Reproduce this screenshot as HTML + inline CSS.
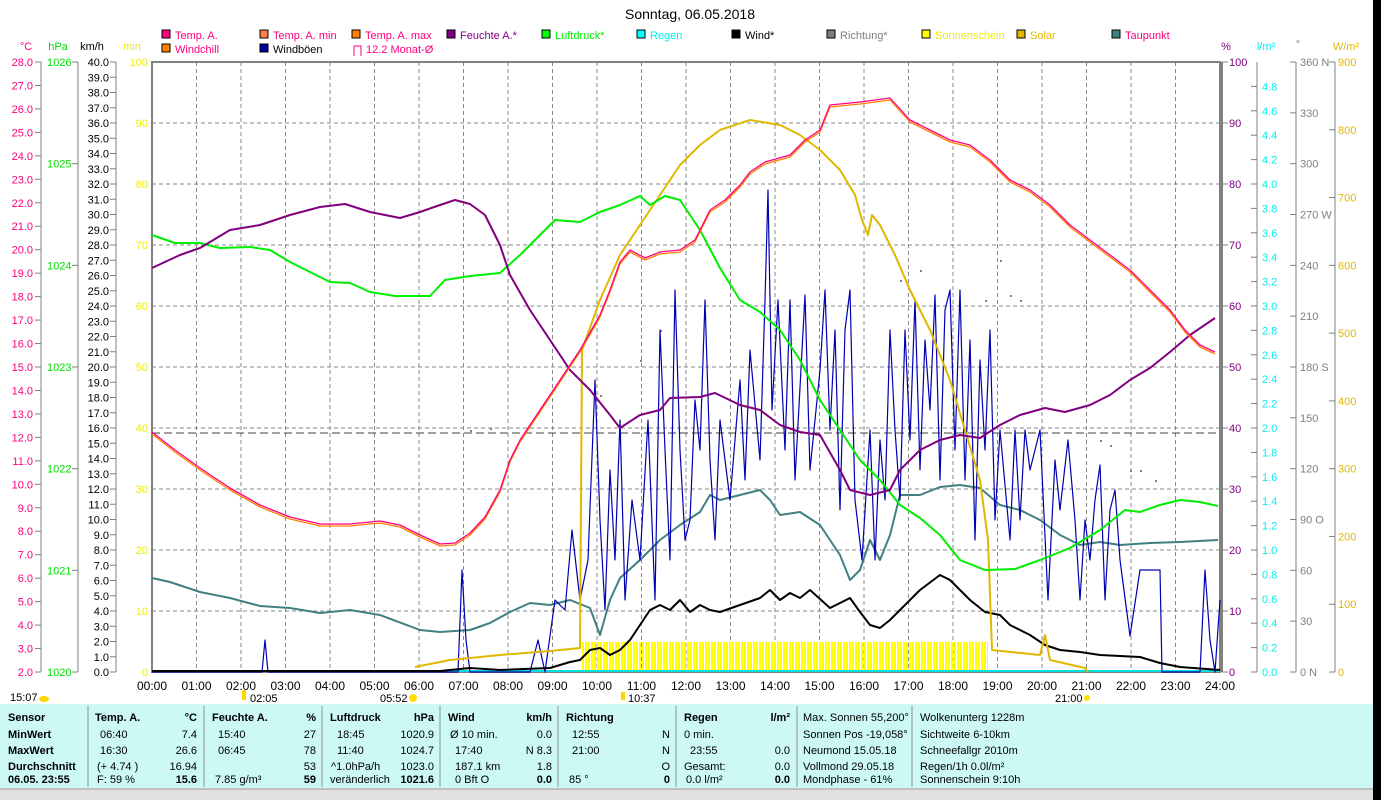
<!DOCTYPE html>
<html><head><meta charset="utf-8"><style>
body{margin:0;background:#fff;width:1381px;height:800px;overflow:hidden;font-family:"Liberation Sans",sans-serif}
svg{display:block}
text{font-family:"Liberation Sans",sans-serif;font-size:11px}
</style></head><body>
<svg id="s" width="1381" height="800" xmlns="http://www.w3.org/2000/svg">
<defs>
<pattern id="sun" width="3" height="30" patternUnits="userSpaceOnUse"><rect width="2" height="30" fill="#ffff00"/></pattern>
</defs>
<rect x="1373" y="0" width="8" height="800" fill="#000"/>
<text x="690" y="19" text-anchor="middle" style="font-size:14px">Sonntag, 06.05.2018</text>
<g id="g"></g>
<!-- bottom panel -->
<rect x="0" y="704" width="1373" height="84" fill="#ccf8f6"/>
<rect x="0" y="788" width="1373" height="12" fill="#e0e0e0"/>
<line x1="0" y1="789" x2="1373" y2="789" stroke="#a0a0a0"/>
<g id="t" style="font-size:11px"></g>
</svg>
<script>
const NS="http://www.w3.org/2000/svg",g=document.getElementById('g'),T=document.getElementById('t');
function el(p,n,a,txt){const e=document.createElementNS(NS,n);for(const k in a)e.setAttribute(k,a[k]);if(txt!==undefined)e.textContent=txt;p.appendChild(e);return e;}
function tx(p,x,y,s,c,anc,extra){const a={x:x,y:y,fill:c||'#000'};if(anc)a['text-anchor']=anc;if(extra)Object.assign(a,extra);return el(p,'text',a,s);}
const L=152,R=1220,TOP=62,B=672;
// grid
for(let h=1;h<24;h++){const x=L+h*(R-L)/24;el(g,'line',{x1:x,y1:TOP,x2:x,y2:B,stroke:'#888','stroke-dasharray':'4,3'});}
for(let i=1;i<10;i++){const y=B-i*61;el(g,'line',{x1:L,y1:y,x2:R,y2:y,stroke:'#888','stroke-dasharray':'4,3'});}
el(g,'rect',{x:L,y:TOP,width:R-L,height:B-TOP,fill:'none',stroke:'#808080','stroke-width':2});
el(g,'line',{x1:R+2,y1:TOP,x2:R+2,y2:B,stroke:'#808080','stroke-width':2});
// x labels
for(let h=0;h<=24;h++){const x=L+h*(R-L)/24;tx(g,x,690,(h<10?'0':'')+h+':00','#000','middle',{style:'font-size:12px'});}
tx(g,10,701,'15:07','#000');el(g,'ellipse',{cx:44,cy:699,rx:5,ry:3,fill:'#ffd800'});
tx(g,250,702,'02:05','#000');el(g,'rect',{x:242,y:690,width:4,height:10,fill:'#ffd800'});
tx(g,380,702,'05:52','#000');el(g,'circle',{cx:413,cy:698,r:4,fill:'#ffe000'});
tx(g,628,702,'10:37','#000');el(g,'rect',{x:621,y:692,width:4,height:8,fill:'#ffd800'});
tx(g,1055,702,'21:00','#000');el(g,'circle',{cx:1087,cy:698,r:3,fill:'#ffe000'});
// left axes
const axes=[41,78,116];axes.forEach(x=>el(g,'line',{x1:x,y1:TOP,x2:x,y2:B,stroke:'#808080'}));
tx(g,26,50,'°C','#ff0080','middle');tx(g,58,50,'hPa','#00dd00','middle');tx(g,92,50,'km/h','#000','middle');tx(g,132,50,'min','#eeee00','middle');
for(let v=2;v<=28;v++){const y=B-(v-2)*610/26;el(g,'line',{x1:35,y1:y,x2:41,y2:y,stroke:'#808080'});tx(g,33,y+4,v.toFixed(1),'#ff0080','end');}
for(let v=1020;v<=1026;v++){const y=B-(v-1020)*610/6;el(g,'line',{x1:72,y1:y,x2:78,y2:y,stroke:'#808080'});tx(g,47,y+4,v,'#00dd00');}
for(let v=0;v<=40;v++){const y=B-v*610/40;el(g,'line',{x1:110,y1:y,x2:116,y2:y,stroke:'#808080'});tx(g,109,y+4,v.toFixed(1),'#000','end');}
for(let v=0;v<=100;v+=10){const y=B-v*6.1;tx(g,148,y+4,v,'#eeee00','end');}
// right axes
[1257,1296,1335].forEach(x=>el(g,'line',{x1:x,y1:TOP,x2:x,y2:B,stroke:'#808080'}));
tx(g,1226,50,'%','#800080','middle');tx(g,1266,50,'l/m²','#00eeee','middle');tx(g,1298,48,'°','#808080','middle');tx(g,1346,50,'W/m²','#e0b800','middle');
for(let v=0;v<=100;v+=10){const y=B-v*6.1;el(g,'line',{x1:1222,y1:y,x2:1228,y2:y,stroke:'#808080'});tx(g,1229,y+4,v,'#800080');}
for(let i=0;i<=24;i++){const v=i*0.2,y=B-v*122;el(g,'line',{x1:1251,y1:y,x2:1257,y2:y,stroke:'#808080'});tx(g,1262,y+4,v.toFixed(1),'#00eeee');}
const dl={360:'360 N',270:'270 W',180:'180 S',90:'90 O',0:'0    N'};
for(let v=0;v<=360;v+=30){const y=B-v*610/360;el(g,'line',{x1:1290,y1:y,x2:1296,y2:y,stroke:'#808080'});tx(g,1300,y+4,dl[v]||v,'#808080');}
for(let v=0;v<=900;v+=100){const y=B-v*610/900;el(g,'line',{x1:1329,y1:y,x2:1335,y2:y,stroke:'#808080'});tx(g,1338,y+4,v,'#e0b800');}
// legend
const leg=[[162,38,'#ff0080','Temp. A.','#ff0080'],[260,38,'#ff8040','Temp. A. min','#ff0080'],[352,38,'#ff8000','Temp. A. max','#ff0080'],[447,38,'#800080','Feuchte A.*','#800080'],[542,38,'#00ff00','Luftdruck*','#00ee00'],[637,38,'#00ffff','Regen','#00eeee'],[732,38,'#000','Wind*','#000'],[827,38,'#808080','Richtung*','#808080'],[922,38,'#ffff00','Sonnenschein','#eeee00'],[1017,38,'#e0b800','Solar','#e0b800'],[1112,38,'#408080','Taupunkt','#ff0080'],[162,52,'#ff8000','Windchill','#ff0080'],[260,52,'#0000a0','Windböen','#000']];
leg.forEach(l=>{el(g,'rect',{x:l[0],y:l[1]-8,width:8,height:8,fill:l[2],stroke:'#000'});tx(g,l[0]+13,l[1]+1,l[3],l[4]);});
el(g,'path',{d:'M354,56 V46 H361 V56',fill:'none',stroke:'#ff0080'});tx(g,366,53,'12.2 Monat-Ø','#ff0080');
// monthly dashed
el(g,'line',{x1:L,y1:433,x2:R,y2:433,stroke:'#404040','stroke-dasharray':'8,4'});
// sunshine
el(g,'rect',{x:581,y:642,width:407,height:29,fill:'url(#sun)'});
el(g,'line',{x1:L,y1:671,x2:R,y2:671,stroke:'#00e0e0','stroke-width':2});
function pl(pts,c,w){el(g,'polyline',{points:pts.map(p=>p.join(',')).join(' '),fill:'none',stroke:c,'stroke-width':w||2,'stroke-linejoin':'round'});}
// direction dots
[[470,430],[490,428],[600,395],[640,360],[660,330],[900,280],[920,270],[1010,295],[1020,300],[1100,440],[1110,445],[1130,470],[1140,470],[1155,480],[1000,260],[985,300]].forEach(p=>el(g,'rect',{x:p[0],y:p[1],width:2,height:2,fill:'#808080'}));
const taup=[[152,578],[170,582],[200,592],[230,598],[260,606],[290,608],[320,613],[350,610],[380,615],[420,630],[440,632],[470,630],[490,623],[510,612],[530,603],[550,605],[570,600],[590,608],[600,635],[610,600],[620,578],[640,560],[660,540],[680,525],[700,512],[710,495],[720,500],[740,495],[760,490],[770,500],[780,515],[800,512],[820,525],[840,555],[850,580],[860,570],[870,540],[880,560],[890,535],[900,495],[920,495],[940,487],[960,485],[980,488],[1000,505],[1020,510],[1040,520],[1060,535],[1080,545],[1100,542],[1120,545],[1150,543],[1180,542],[1218,540]];
pl(taup,'#408080');
const boen=[[152,672],[262,672],[265,640],[268,672],[458,672],[462,570],[466,640],[470,672],[530,672],[538,640],[545,672],[555,600],[565,610],[572,530],[580,600],[588,560],[595,380],[600,520],[605,610],[610,470],[615,560],[620,420],[625,600],[632,500],[640,560],[648,420],[655,600],[660,330],[665,450],[670,560],[675,290],[680,450],[685,540],[690,520],[695,400],[700,450],[705,300],[710,460],[715,540],[720,420],[730,500],[740,380],[745,480],[750,350],[760,460],[765,300],[768,190],[772,410],[778,300],[785,450],[790,300],[795,480],[805,295],[810,470],[820,370],[825,290],[830,430],[835,330],[840,510],[845,330],[850,290],[855,500],[862,560],[870,430],[875,560],[880,440],[885,500],[890,330],[895,430],[900,500],[905,330],[910,440],[915,300],[920,470],[925,340],[930,410],[935,295],[940,480],[945,310],[950,290],[955,450],[960,290],[965,480],[970,340],[975,540],[980,360],[985,450],[990,330],[995,520],[1000,430],[1010,540],[1015,430],[1020,520],[1025,430],[1030,470],[1040,430],[1048,600],[1055,460],[1060,510],[1068,440],[1075,520],[1080,600],[1085,520],[1090,560],[1095,500],[1100,465],[1105,600],[1110,510],[1115,490],[1120,560],[1130,636],[1140,570],[1160,570],[1162,672],[1200,672],[1205,570],[1210,640],[1215,672],[1220,600]];
pl(boen,'#0000b0',1.2);
const wind=[[152,671],[440,671],[470,668],[500,670],[550,668],[570,662],[580,660],[590,650],[600,648],[610,655],[620,650],[630,640],[640,625],[650,610],[660,605],[670,610],[680,600],[690,612],[700,605],[710,610],[720,612],[740,605],[760,598],[770,590],[780,600],[790,593],[800,598],[810,590],[830,608],[850,598],[860,612],[870,625],[880,628],[890,620],[900,610],[920,590],[940,575],[950,580],[960,590],[970,600],[985,612],[1000,615],[1010,625],[1030,635],[1045,645],[1060,650],[1080,652],[1100,655],[1140,657],[1160,663],[1180,667],[1220,670]];
pl(wind,'#000');
const solar=[[415,667],[450,660],[500,655],[550,651],[580,648],[582,350],[600,300],[620,255],[640,225],[660,195],[680,165],[700,145],[720,130],[750,120],[780,125],[800,135],[820,150],[840,170],[855,195],[862,220],[868,235],[872,215],[880,225],[895,255],[910,290],[930,330],[950,380],[965,430],[980,480],[988,540],[992,650],[1040,655],[1045,635],[1050,660],[1085,668],[1088,672]];
pl(solar,'#e0b800');
const druck=[[152,235],[175,243],[200,243],[220,248],[250,247],[270,250],[290,262],[310,272],[330,282],[350,283],[370,292],[395,296],[430,296],[445,280],[470,276],[500,273],[520,255],[540,235],[555,220],[580,222],[600,212],[620,205],[640,196],[650,205],[665,196],[680,200],[700,230],[720,268],[740,300],[760,312],[780,330],[800,360],[820,400],[840,430],[860,460],[880,480],[900,505],[920,518],[940,535],[960,560],[985,570],[1015,569],[1040,560],[1070,548],[1100,530],[1125,510],[1140,512],[1160,505],[1180,500],[1200,502],[1218,506]];
pl(druck,'#00ee00');
const feu=[[152,268],[180,255],[200,248],[230,230],[260,225],[290,215],[320,207],[345,204],[370,212],[400,218],[420,212],[440,205],[455,200],[470,204],[485,215],[500,245],[510,275],[530,310],[550,340],[570,370],[590,390],[610,415],[620,428],[640,415],[660,410],[670,398],[700,397],[715,393],[740,405],[760,410],[780,425],[800,432],[820,435],[840,470],[850,490],[870,495],[890,490],[900,470],[920,450],[940,440],[960,435],[980,438],[1000,425],[1020,415],[1045,408],[1065,412],[1090,405],[1110,395],[1130,380],[1150,368],[1170,352],[1190,335],[1215,318]];
pl(feu,'#800080');
const temp=[[152,432],[175,450],[200,468],[230,488],[260,505],[290,517],[320,524],[350,524],[380,521],[400,525],[420,535],[440,544],[455,543],[470,533],[485,517],[500,490],[510,460],[520,440],[540,410],[560,380],[580,350],[600,315],[610,290],[620,262],[630,250],[645,258],[660,252],[680,250],[695,240],[710,210],[725,200],[740,185],[750,172],[765,162],[790,155],[805,140],[820,130],[830,105],[860,102],[890,98],[910,120],[930,130],[950,140],[970,145],[990,160],[1010,180],[1030,190],[1050,205],[1070,225],[1090,240],[1110,255],[1130,270],[1150,290],[1170,310],[1185,330],[1200,345],[1215,352]];
pl(temp.map(p=>[p[0],p[1]+2]),'#ff8000',1.3);pl(temp,'#ff0080',1.3);
// table
const cols=[88,204,322,440,558,676,797,912];cols.forEach(x=>el(T,'line',{x1:x,y1:706,x2:x,y2:787,stroke:'#909090'}));
const Y=[721,738,754,770,787-4];
function c(x,r,s,anc,b){tx(T,x,Y[r],s,'#000',anc,b?{'font-weight':'bold'}:{});}
['Sensor','MinWert','MaxWert','Durchschnitt','06.05. 23:55'].forEach((s,i)=>c(8,i,s,null,true));
c(95,0,'Temp. A.',null,true);c(197,0,'°C','end',true);c(100,1,'06:40');c(197,1,'7.4','end');c(100,2,'16:30');c(197,2,'26.6','end');c(97,3,'(+ 4.74 )');c(197,3,'16.94','end');c(97,4,'F: 59 %');c(197,4,'15.6','end',true);
c(212,0,'Feuchte A.',null,true);c(316,0,'%','end',true);c(218,1,'15:40');c(316,1,'27','end');c(218,2,'06:45');c(316,2,'78','end');c(316,3,'53','end');c(215,4,'7.85 g/m³');c(316,4,'59','end',true);
c(330,0,'Luftdruck',null,true);c(434,0,'hPa','end',true);c(337,1,'18:45');c(434,1,'1020.9','end');c(337,2,'11:40');c(434,2,'1024.7','end');c(331,3,'^1.0hPa/h');c(434,3,'1023.0','end');c(330,4,'veränderlich');c(434,4,'1021.6','end',true);
c(448,0,'Wind',null,true);c(552,0,'km/h','end',true);c(450,1,'Ø 10 min.');c(552,1,'0.0','end');c(455,2,'17:40');c(552,2,'N 8.3','end');c(455,3,'187.1 km');c(552,3,'1.8','end');c(455,4,'0 Bft O');c(552,4,'0.0','end',true);
c(566,0,'Richtung',null,true);c(572,1,'12:55');c(670,1,'N','end');c(572,2,'21:00');c(670,2,'N','end');c(670,3,'O','end');c(569,4,'85 °');c(670,4,'0','end',true);
c(684,0,'Regen',null,true);c(790,0,'l/m²','end',true);c(684,1,'0 min.');c(690,2,'23:55');c(790,2,'0.0','end');c(684,3,'Gesamt:');c(790,3,'0.0','end');c(686,4,'0.0 l/m²');c(790,4,'0.0','end',true);
['Max. Sonnen 55,200°','Sonnen Pos -19,058°','Neumond   15.05.18','Vollmond   29.05.18','Mondphase      - 61%'].forEach((s,i)=>c(803,i,s,null,false));
['Wolkenunterg 1228m','Sichtweite    6-10km','Schneefallgr   2010m','Regen/1h    0.0l/m²','Sonnenschein  9:10h'].forEach((s,i)=>c(920,i,s,null,false));
T.querySelectorAll('text').forEach(t=>t.setAttribute('xml:space','preserve'));
</script>
</body></html>
